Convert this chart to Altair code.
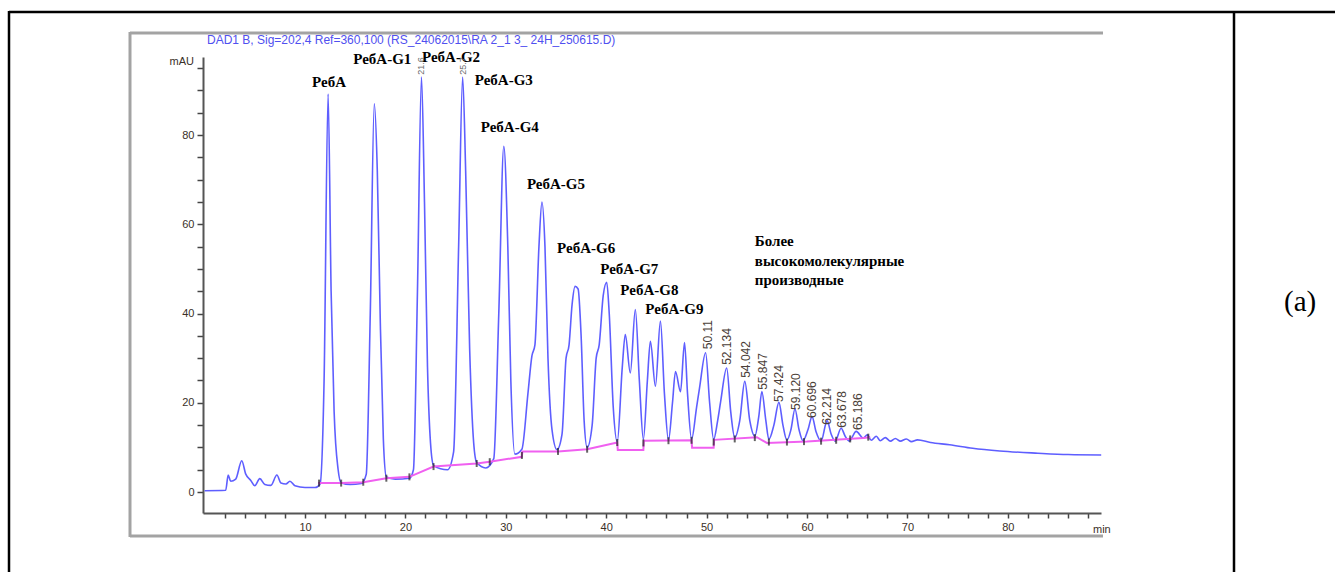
import altair as alt
import pandas as pd

# ---- chromatogram trace (time min, signal mAU) ----
trace = [
    (0.0, 0.3), (2.1, 0.4), (2.35, 3.8), (2.6, 2.4), (3.1, 2.9), (3.7, 7.0), (4.1, 4.0),
    (4.6, 2.6), (5.0, 1.4), (5.5, 3.0), (6.0, 1.7), (6.6, 1.5), (7.2, 3.8), (7.6, 2.0),
    (8.1, 1.8), (8.5, 2.4), (9.0, 1.4), (10.0, 1.0), (11.0, 1.0), (11.5, 1.8),
    (11.9, 25.0), (12.3, 89.2), (12.6, 45.0), (12.9, 18.0), (13.3, 5.0), (13.6, 2.1),
    (14.5, 1.7), (15.6, 1.9), (16.1, 4.0), (16.5, 40.0), (16.9, 87.0), (17.2, 72.0),
    (17.5, 38.0), (17.8, 12.0), (18.1, 3.4), (19.0, 2.9), (20.4, 3.1), (20.8, 5.0),
    (21.2, 45.0), (21.6, 93.0), (21.9, 65.0), (22.2, 28.0), (22.5, 11.0), (22.8, 6.0),
    (23.5, 5.2), (24.2, 5.0), (24.8, 9.0), (25.3, 55.0), (25.7, 93.0), (26.0, 72.0),
    (26.4, 32.0), (26.8, 11.0), (27.1, 6.6), (28.0, 5.4), (28.8, 7.5), (29.3, 40.0),
    (29.8, 77.5), (30.2, 55.0), (30.5, 25.0), (30.9, 8.5), (31.6, 9.6), (32.2, 22.0),
    (32.6, 30.5), (32.9, 33.0), (33.3, 55.0), (33.6, 65.0), (33.9, 55.0), (34.2, 30.0),
    (34.6, 14.0), (35.1, 9.5), (35.6, 13.0), (36.0, 30.0), (36.3, 33.0), (36.6, 42.0),
    (36.9, 46.1), (37.2, 45.5), (37.5, 35.0), (37.8, 16.0), (38.1, 10.0), (38.6, 15.0),
    (39.0, 30.0), (39.3, 33.0), (39.7, 44.0), (40.05, 47.0), (40.3, 40.0), (40.7, 19.0),
    (41.1, 11.2), (41.6, 28.0), (41.9, 35.3), (42.4, 26.7), (42.9, 40.9), (43.3, 25.0),
    (43.7, 11.8), (44.1, 25.0), (44.4, 33.8), (44.9, 23.7), (45.4, 38.3), (45.8, 22.0),
    (46.2, 11.6), (46.6, 20.0), (46.9, 27.0), (47.4, 22.5), (47.8, 33.5), (48.1, 22.0),
    (48.5, 11.8), (49.0, 19.0), (49.3, 23.4), (49.9, 31.2), (50.3, 20.0), (50.7, 11.8),
    (51.1, 16.0), (51.4, 20.3), (52.0, 27.8), (52.4, 18.0), (52.8, 12.2), (53.3, 16.0),
    (53.8, 24.8), (54.3, 16.0), (54.8, 12.5), (55.2, 17.0), (55.5, 22.5), (55.9, 16.0),
    (56.2, 11.8), (56.7, 15.0), (57.2, 20.1), (57.6, 15.0), (58.0, 11.6), (58.4, 14.0),
    (58.8, 18.6), (59.2, 14.0), (59.6, 11.5), (60.1, 14.0), (60.5, 16.9), (60.9, 13.5),
    (61.4, 11.4), (62.0, 16.0), (62.4, 13.0), (62.8, 11.4), (63.4, 14.3), (63.8, 12.5),
    (64.2, 11.4), (64.9, 13.6), (65.6, 12.1), (66.0, 12.8), (66.4, 11.6), (66.9, 12.5),
    (67.3, 11.5), (67.8, 12.2), (68.3, 11.4), (68.8, 12.0), (69.3, 11.4), (69.9, 11.9),
    (70.4, 11.3), (71.0, 11.7), (72.3, 11.1), (74.2, 10.6), (76.5, 9.8), (79.2, 9.2),
    (83.0, 8.7), (86.0, 8.4), (89.3, 8.3),
]

# ---- integration baseline (pink) ----
base_t = [11.3, 13.6, 15.8, 18.1, 20.4, 22.8, 27.1, 28.4, 31.6, 31.65, 35.2, 38.1,
          41.1, 41.15, 43.7, 43.75, 48.5, 48.55, 50.7, 50.75, 55.0, 56.0, 60.0, 65.6, 66.3]
base_mau = [2.0, 2.0, 2.2, 3.1, 3.4, 5.7, 6.4, 6.8, 7.9, 9.1, 9.1, 9.6,
            11.1, 9.4, 9.4, 11.5, 11.6, 9.9, 9.9, 11.7, 12.3, 11.0, 11.3, 12.1, 12.3]

# ---- integration event marks ----
mark_t = [11.4, 13.6, 15.8, 18.1, 20.4, 22.8, 27.1, 28.4, 31.6, 35.2, 38.1, 41.1,
          43.7, 46.2, 48.5, 50.7, 52.8, 54.8, 56.2, 58.0, 59.7, 61.4, 62.9, 64.3, 66.1]
mark_mau = [2.0, 2.0, 2.2, 3.1, 3.4, 5.7, 6.4, 6.8, 8.2, 9.1, 9.6, 11.1,
            11.0, 11.5, 11.6, 11.2, 11.9, 12.2, 11.2, 11.2, 11.3, 11.4, 11.6, 11.9, 12.3]

# ---- peak names ----
peak_names = ["РебА", "РебА-G1", "РебА-G2", "РебА-G3", "РебА-G4", "РебА-G5",
              "РебА-G6", "РебА-G7", "РебА-G8", "РебА-G9"]
peak_name_t = [10.7, 14.8, 21.65, 26.9, 27.5, 32.1, 35.1, 39.4, 41.4, 43.9]
peak_name_mau = [91.9, 97.1, 97.5, 92.4, 81.8, 69.0, 54.8, 49.9, 45.2, 41.1]

higher_lines = ["Более", "высокомолекулярные", "производные"]
higher_t = [54.8, 54.8, 54.8]
higher_mau = [56.2, 51.7, 47.6]

# ---- retention-time labels ----
rt_labels = ["50.11", "52.134", "54.042", "55.847", "57.424", "59.120",
             "60.696", "62.214", "63.678", "65.186"]
rt_t = [50.1, 52.0, 53.9, 55.6, 57.2, 58.9, 60.5, 62.0, 63.5, 65.1]
rt_mau = [32.0, 28.5, 25.6, 22.9, 20.2, 18.4, 16.6, 15.1, 14.4, 13.9]

top_rt_labels = ["21.6", "25.7"]
top_rt_t = [21.6, 25.7]
top_rt_mau = [93.5, 93.5]

x_ticks = [v * 2 for v in range(1, 45)]
y_ticks = [v * 5 for v in range(0, 20)]

W, H = 898, 456

df_trace = pd.DataFrame(trace, columns=["t", "mAU"])
df_base = pd.DataFrame({"t": base_t, "mAU": base_mau})
df_marks = pd.DataFrame({"t": mark_t, "mAU": mark_mau})
df_names = pd.DataFrame({"t": peak_name_t, "mAU": peak_name_mau, "label": peak_names})
df_higher = pd.DataFrame({"t": higher_t, "mAU": higher_mau, "label": higher_lines})
df_rt = pd.DataFrame({"t": rt_t, "mAU": rt_mau, "label": rt_labels})
df_top_rt = pd.DataFrame({"t": top_rt_t, "mAU": top_rt_mau, "label": top_rt_labels})

xscale = alt.Scale(domain=[-0.16, 89.28], nice=False, zero=False)
yscale = alt.Scale(domain=[-4.7, 97.5], nice=False, zero=False)

x_enc = alt.X("t:Q", scale=xscale, axis=alt.Axis(
    values=x_ticks, title=None, grid=False,
    labelExpr="datum.value % 10 == 0 ? datum.label : ''",
    labelFont="Liberation Sans", labelFontSize=11, labelColor="#3a3028",
    labelPadding=3, tickSize=5, tickColor="#444", tickWidth=1.5,
    domainColor="#555", domainWidth=2))
y_enc = alt.Y("mAU:Q", scale=yscale, axis=alt.Axis(
    values=y_ticks, title=None, grid=False,
    labelExpr="datum.value % 20 == 0 ? datum.label : ''",
    labelFont="Liberation Sans", labelFontSize=11, labelColor="#3a3028",
    labelPadding=3, tickSize=6, tickColor="#444", tickWidth=1.5,
    domainColor="#555", domainWidth=2))

curve = alt.Chart(df_trace).mark_line(
    interpolate="monotone", color="#4d4dff", strokeWidth=1.6, opacity=0.9
).encode(x=x_enc, y=y_enc)

baseline = alt.Chart(df_base).mark_line(color="#f060f0", strokeWidth=2).encode(x=x_enc, y=y_enc)

marks = alt.Chart(df_marks).mark_tick(
    orient="vertical", size=7, thickness=2, color="#222"
).encode(x=x_enc, y=y_enc)

names = alt.Chart(df_names).mark_text(
    font="Liberation Serif", fontWeight="bold", fontSize=15, color="#000",
    align="left", baseline="middle"
).encode(x=x_enc, y=y_enc, text="label:N")

higher = alt.Chart(df_higher).mark_text(
    font="Liberation Serif", fontWeight="bold", fontSize=15, color="#000",
    align="left", baseline="middle"
).encode(x=x_enc, y=y_enc, text="label:N")

rt = alt.Chart(df_rt).mark_text(
    font="Liberation Sans", fontSize=12, color="#4b4038", angle=270,
    align="left", baseline="middle"
).encode(x=x_enc, y=y_enc, text="label:N")

top_rt = alt.Chart(df_top_rt).mark_text(
    font="Liberation Sans", fontSize=9, color="#6a6a6a", angle=270,
    align="left", baseline="middle"
).encode(x=x_enc, y=y_enc, text="label:N")

one = pd.DataFrame({"k": [0]})


def rule(x=None, x2=None, y=None, y2=None, color="#000", width=2.5):
    enc = {}
    if x is not None:
        enc["x"] = alt.value(x)
    if x2 is not None:
        enc["x2"] = alt.value(x2)
    if y is not None:
        enc["y"] = alt.value(y)
    if y2 is not None:
        enc["y2"] = alt.value(y2)
    return alt.Chart(one).mark_rule(color=color, strokeWidth=width).encode(**enc)


def label(text, x, y, size, font="Liberation Sans", color="#000", align="left", weight="normal"):
    return alt.Chart(one).mark_text(
        text=text, font=font, fontSize=size, color=color, align=align,
        baseline="middle", fontWeight=weight
    ).encode(x=alt.value(x), y=alt.value(y))


# table borders (black) and the screenshot frame (gray), in pixels relative to the plot
decor = [
    rule(x=-194, x2=1132, y=-45),
    rule(x=-194, y=-46, y2=520),
    rule(x=1031, y=-46, y2=520),
    rule(x=-73, x2=900, y=-24, color="#a3a3a3", width=3),
    rule(x=-73, x2=900, y=479, color="#a3a3a3", width=3),
    rule(x=-73, y=-25, y2=480, color="#a3a3a3", width=3),
    label("DAD1 B, Sig=202,4 Ref=360,100 (RS_24062015\\RA 2_1 3_ 24H_250615.D)",
          4, -17, 12, color="#5050f0"),
    label("mAU", -9, 5, 11, color="#3a3028", align="right"),
    label("min", 890, 473, 11, color="#3a3028"),
    label("(a)", 1081, 245, 29, font="Liberation Serif"),
]

chart = alt.layer(
    curve, baseline, marks, names, higher, rt, top_rt, *decor
).properties(
    width=W, height=H,
    autosize=alt.AutoSizeParams(type="none"),
    padding={"left": 203, "top": 57, "right": 234, "bottom": 59},
    background="white",
).configure_view(stroke=None)

chart.save("out.html", embed_options={"renderer": "svg", "actions": False})
